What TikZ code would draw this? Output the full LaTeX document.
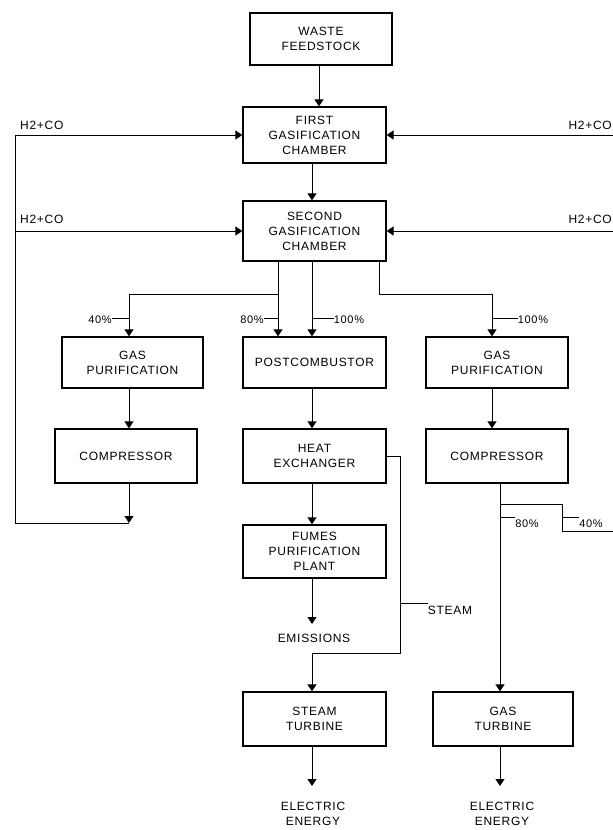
\documentclass[tikz,border=0pt]{standalone}
\usepackage{fontspec}
\setmainfont[LetterSpace=6]{Liberation Sans}
\usetikzlibrary{arrows.meta}
\newcommand{\fs}{\fontsize{12}{15}\selectfont}
\newcommand{\fss}{\fontsize{11}{13}\selectfont}
\tikzset{
  blk/.style={draw, line width=1.3pt, align=center, inner sep=0pt, font=\fs},
  con/.style={line width=1pt},
  arr/.style={con, -{Triangle[width=9pt,length=7pt]}},
  tick/.style={line width=0.8pt},
  lbl/.style={font=\fs, inner sep=0pt, align=center},
  pct/.style={font=\fss, inner sep=0pt},
}
\begin{document}
\begin{tikzpicture}[x=1pt,y=-1pt]
\useasboundingbox (0,0) rectangle (613,830);
\clip (0,0) rectangle (613,830);
% columns
\coordinate (xF) at (15,0);
\coordinate (xL) at (129,0);
\coordinate (xA) at (278,0);
\coordinate (xM) at (312,0);
\coordinate (xW) at (319,0);
\coordinate (xB) at (379,0);
\coordinate (xS) at (400,0);
\coordinate (xR) at (492,0);
\coordinate (xRC) at (500,0);
\coordinate (x40) at (562,0);
\coordinate (xE) at (613,0);
\coordinate (jy) at (0,294);
\coordinate (sy) at (0,653);
\coordinate (spy) at (0,504);
\coordinate (sp2) at (0,531);
% boxes
\node[blk, minimum width=142, minimum height=52] (waste) at (321,39) {WASTE\\FEEDSTOCK};
\node[blk, minimum width=143, minimum height=56] (first) at (314.5,135) {FIRST\\GASIFICATION\\CHAMBER};
\node[blk, minimum width=143, minimum height=60] (second) at (314.5,231) {SECOND\\GASIFICATION\\CHAMBER};
\node[blk, minimum width=141, minimum height=51] (gpl) at (132.5,362.5) {GAS\\PURIFICATION};
\node[blk, minimum width=143, minimum height=51] (post) at (314.5,362.5) {POSTCOMBUSTOR};
\node[blk, minimum width=142, minimum height=51] (gpr) at (497,362.5) {GAS\\PURIFICATION};
\node[blk, minimum width=142, minimum height=54] (cl) at (126,456) {COMPRESSOR};
\node[blk, minimum width=143, minimum height=54] (hx) at (314.5,456) {HEAT\\EXCHANGER};
\node[blk, minimum width=142, minimum height=54] (cr) at (497,456) {COMPRESSOR};
\node[blk, minimum width=143, minimum height=53] (fumes) at (314.5,551.5) {FUMES\\PURIFICATION\\PLANT};
\node[blk, minimum width=143, minimum height=54] (st) at (314.5,719) {STEAM\\TURBINE};
\node[blk, minimum width=140, minimum height=54] (gt) at (503,719) {GAS\\TURBINE};
% text labels
\node[lbl, anchor=west] (h1) at (20,125) {H2+CO};
\node[lbl, anchor=west] (h2) at (20,219) {H2+CO};
\node[lbl, anchor=east] (h3) at (612,125) {H2+CO};
\node[lbl, anchor=east] (h4) at (612,219) {H2+CO};
\node[lbl] (emis) at (314,638) {EMISSIONS};
\node[lbl] (ee1) at (313,814) {ELECTRIC\\ENERGY};
\node[lbl] (ee2) at (502,814) {ELECTRIC\\ENERGY};
\node[lbl] (steam) at (450,610) {STEAM};
\node[pct] (p40) at (100,320) {40\%};
\node[pct] (p80) at (252,320) {80\%};
\node[pct] (p100) at (349,320) {100\%};
\node[pct] (p100r) at (533,320) {100\%};
\node[pct] (p80r) at (527,524) {80\%};
\node[pct] (p40r) at (591,524) {40\%};
\coordinate (emisin) at (312,624);
\coordinate (e1in) at (312,786);
\coordinate (e2in) at (500,786);
\coordinate (lp) at (129,523);
\coordinate (lpc) at (15,523);
% connectors
\draw[arr] (waste.south -| xW) -- (first.north -| xW);
\draw[arr] (first.south -| xM) -- (second.north -| xM);
\draw[arr] (cl.south -| xL) -- (lp);
\draw[con] (lp) -- (lpc);
\draw[arr] (lpc) |- (first.west);
\draw[arr] (lpc |- second.west) -- (second.west);
\draw[arr] (xE |- first.east) -- (first.east);
\draw[arr] (xE |- second.east) -- (second.east);
\draw[arr] (second.south -| xA) -- (post.north -| xA);
\draw[arr] (second.south -| xM) -- (post.north -| xM);
\draw[arr] (xA |- jy) -| (gpl.north -| xL);
\draw[arr] (second.south -| xB) -- (xB |- jy) -| (gpr.north -| xR);
\draw[arr] (gpl.south -| xL) -- (cl.north -| xL);
\draw[arr] (post.south -| xM) -- (hx.north -| xM);
\draw[arr] (gpr.south -| xR) -- (cr.north -| xR);
\draw[arr] (hx.south -| xM) -- (fumes.north -| xM);
\draw[arr] (fumes.south -| xM) -- (emisin);
\draw[arr] (hx.east) -- (xS |- hx.east) -- (xS |- sy) -- (xM |- sy) -- (st.north -| xM);
\draw[arr] (cr.south -| xRC) -- (gt.north -| xRC);
\draw[con] (xRC |- spy) -| (x40 |- sp2) -- (xE |- sp2);
\draw[arr] (st.south -| xM) -- (e1in);
\draw[arr] (gt.south -| xRC) -- (e2in);
% leader ticks
\draw[tick] ([yshift=2]p40.east) -- ([yshift=2]p40.east -| xL);
\draw[tick] ([yshift=2]p80.east) -- ([yshift=2]p80.east -| xA);
\draw[tick] ([yshift=2]p100.west) -- ([yshift=2]p100.west -| xM);
\draw[tick] ([yshift=2]p100r.west) -- ([yshift=2]p100r.west -| xR);
\draw[tick] ([yshift=7]p80r.west) -- ([yshift=7]p80r.west -| xRC);
\draw[tick] ([yshift=7]p40r.west) -- ([yshift=7]p40r.west -| x40);
\draw[tick] ([yshift=7]steam.west) -- ([yshift=7]steam.west -| xS);
\end{tikzpicture}
\end{document}
